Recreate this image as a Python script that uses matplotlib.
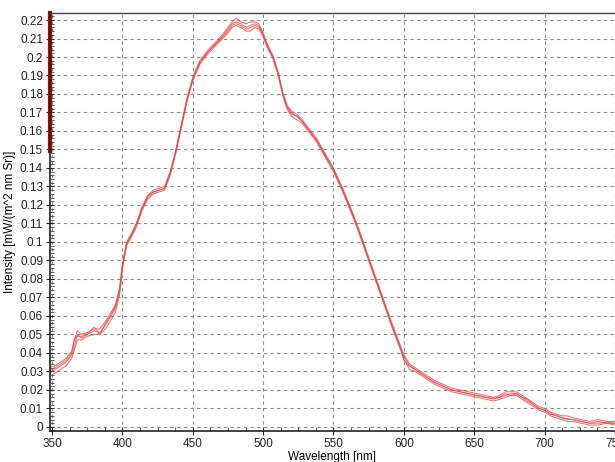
import numpy as np
import matplotlib
matplotlib.use("Agg")
import matplotlib.pyplot as plt
from matplotlib.ticker import MultipleLocator

plt.rcParams['font.family'] = ['Liberation Sans', 'DejaVu Sans']

wavelength = [348, 352, 356, 360, 364, 366, 368, 371, 375, 380, 384, 388, 392, 395, 398,
              400, 403, 406, 410, 414, 418, 422, 426, 430, 434, 438, 442, 446, 450, 455,
              460, 465, 470, 474, 478, 481, 484, 488, 491, 494, 497, 500, 503, 507, 511,
              514, 517, 520, 524, 528, 532, 538, 544, 550, 556, 562, 568, 574, 580, 586,
              592, 597, 600, 604, 608, 612, 616, 622, 628, 634, 640, 646, 652, 658, 664,
              668, 672, 676, 680, 684, 688, 692, 696, 700, 704, 708, 712, 716, 720, 726,
              732, 738, 744, 750]

scan_1 = [0.029, 0.031, 0.033, 0.035, 0.039, 0.044, 0.050, 0.048, 0.050, 0.052, 0.051, 0.055, 0.060, 0.064, 0.073,
          0.086, 0.099, 0.103, 0.109, 0.118, 0.124, 0.127, 0.128, 0.129, 0.137, 0.149, 0.163, 0.177, 0.188, 0.197,
          0.202, 0.206, 0.210, 0.214, 0.218, 0.219, 0.218, 0.216, 0.217, 0.218, 0.217, 0.212, 0.206, 0.200, 0.190,
          0.180, 0.173, 0.170, 0.168, 0.165, 0.161, 0.155, 0.147, 0.139, 0.129, 0.118, 0.106, 0.093, 0.080, 0.067,
          0.054, 0.044, 0.038, 0.033, 0.031, 0.029, 0.027, 0.024, 0.022, 0.020, 0.019, 0.018, 0.017, 0.016, 0.0155,
          0.016, 0.017, 0.018, 0.018, 0.016, 0.014, 0.012, 0.010, 0.009, 0.007, 0.0065, 0.005, 0.0045, 0.004, 0.003,
          0.002, 0.002, 0.0025, 0.002]

scan_2 = [0.032, 0.033, 0.035, 0.037, 0.041, 0.047, 0.052, 0.050, 0.051, 0.053, 0.053, 0.057, 0.062, 0.066, 0.075,
          0.088, 0.100, 0.104, 0.110, 0.119, 0.125, 0.128, 0.129, 0.130, 0.138, 0.150, 0.164, 0.178, 0.189, 0.198,
          0.203, 0.207, 0.211, 0.215, 0.219, 0.221, 0.219, 0.218, 0.219, 0.219, 0.218, 0.213, 0.207, 0.201, 0.191,
          0.181, 0.174, 0.171, 0.169, 0.166, 0.162, 0.156, 0.148, 0.140, 0.130, 0.119, 0.107, 0.094, 0.081, 0.068,
          0.055, 0.045, 0.039, 0.034, 0.032, 0.030, 0.028, 0.025, 0.023, 0.021, 0.020, 0.019, 0.018, 0.017, 0.016,
          0.017, 0.019, 0.019, 0.019, 0.017, 0.015, 0.013, 0.011, 0.010, 0.008, 0.007, 0.006, 0.006, 0.005, 0.004,
          0.003, 0.004, 0.003, 0.003]

scan_3 = [0.027, 0.029, 0.031, 0.033, 0.037, 0.042, 0.047, 0.047, 0.049, 0.050, 0.050, 0.053, 0.058, 0.062, 0.071,
          0.085, 0.098, 0.102, 0.108, 0.117, 0.123, 0.126, 0.127, 0.128, 0.136, 0.148, 0.162, 0.176, 0.187, 0.196,
          0.201, 0.205, 0.209, 0.212, 0.216, 0.217, 0.216, 0.214, 0.214, 0.216, 0.215, 0.211, 0.205, 0.199, 0.189,
          0.179, 0.172, 0.168, 0.166, 0.164, 0.160, 0.154, 0.146, 0.138, 0.128, 0.117, 0.105, 0.092, 0.079, 0.066,
          0.053, 0.043, 0.037, 0.031, 0.030, 0.028, 0.026, 0.023, 0.021, 0.019, 0.018, 0.017, 0.016, 0.015, 0.014,
          0.015, 0.016, 0.017, 0.017, 0.015, 0.013, 0.011, 0.009, 0.008, 0.006, 0.005, 0.004, 0.003, 0.003, 0.002,
          0.001, 0.001, 0.002, 0.001]

scan_4 = [0.030, 0.032, 0.034, 0.036, 0.040, 0.048, 0.049, 0.049, 0.050, 0.054, 0.050, 0.056, 0.061, 0.065, 0.074,
          0.087, 0.099, 0.103, 0.110, 0.118, 0.125, 0.127, 0.128, 0.129, 0.137, 0.149, 0.163, 0.177, 0.188, 0.197,
          0.202, 0.206, 0.210, 0.213, 0.217, 0.218, 0.217, 0.215, 0.216, 0.217, 0.216, 0.212, 0.206, 0.200, 0.190,
          0.180, 0.173, 0.169, 0.168, 0.165, 0.161, 0.155, 0.147, 0.139, 0.129, 0.118, 0.106, 0.093, 0.080, 0.067,
          0.054, 0.044, 0.036, 0.033, 0.031, 0.029, 0.027, 0.024, 0.022, 0.020, 0.019, 0.018, 0.017, 0.016, 0.015,
          0.016, 0.018, 0.017, 0.018, 0.016, 0.015, 0.012, 0.010, 0.009, 0.007, 0.006, 0.005, 0.004, 0.004, 0.003,
          0.002, 0.003, 0.002, 0.002]

scans = [scan_1, scan_2, scan_3, scan_4]

fig = plt.figure(figsize=(6.15, 4.62), dpi=100)
ax = fig.add_axes([0.0813, 0.0671, 0.9187, 0.9048])

for s in scans:
    ax.plot(wavelength, s, color='#e84a4a', lw=0.75, alpha=0.8)

ax.set_xlim(348.6, 750)
ax.set_ylim(-0.0022, 0.2238)

ax.xaxis.set_major_locator(MultipleLocator(50))
ax.xaxis.set_minor_locator(MultipleLocator(12.5))
ax.yaxis.set_major_locator(MultipleLocator(0.01))
ax.yaxis.set_minor_locator(MultipleLocator(0.002))
ax.yaxis.set_major_formatter(plt.FuncFormatter(lambda v, p: '%g' % round(v, 3)))

ax.tick_params(axis='both', which='major', direction='inout', length=6, width=0.8,
               labelsize=8.5, colors='#222222', pad=2)
ax.tick_params(axis='both', which='minor', direction='in', length=3, width=0.6, colors='#444444')
ax.tick_params(top=False, right=False)

ax.grid(True, which='major', linestyle=(0, (3, 3)), color='#8a8a8a', lw=0.8)

for side in ['left', 'bottom']:
    ax.spines[side].set_color('#222222')
    ax.spines[side].set_linewidth(1.2)
ax.spines['top'].set_color('#444444')
ax.spines['top'].set_linewidth(1.0)
ax.spines['right'].set_visible(False)

# red range marker on the left axis
ax.axvline(348.6, ymin=(0.149 + 0.0022) / 0.226, ymax=1, color='#c00000', lw=3, clip_on=False)

ax.set_xlabel('Wavelength [nm]', fontsize=8.5, labelpad=1)
ax.set_ylabel('Intensity [mW/(m^2 nm Sr)]', fontsize=8.5, labelpad=3)

fig.savefig('out.png', dpi=100)
